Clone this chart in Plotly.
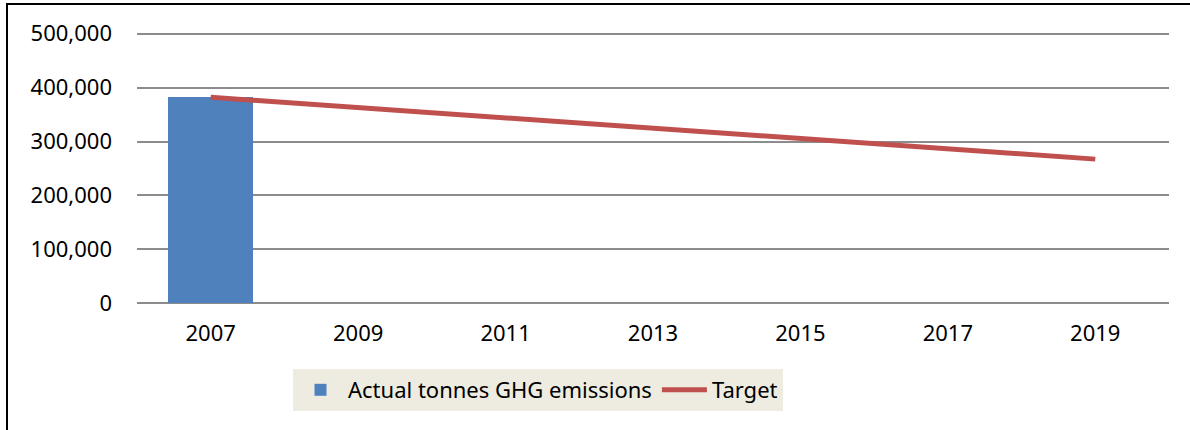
import plotly.graph_objects as go

years = ["2007", "2009", "2011", "2013", "2015", "2017", "2019"]
actual = [383000, None, None, None, None, None, None]
target = [382000, 362900, 343800, 324700, 305600, 286500, 267400]

W, H = 1190, 430
L, R, T, B = 137, 21, 31, 124
pw, ph = W - L - R, H - T - B
YMIN, YMAX = -5000, 505000

def px(x):
    return (x - L) / pw

def py(y):
    return (H - B - y) / ph

fig = go.Figure()
fig.add_trace(go.Bar(x=years, y=actual, name="Actual tonnes GHG emissions",
                     marker=dict(color="#4F81BD", line=dict(width=0)), width=0.577))
fig.add_trace(go.Scatter(x=years, y=target, name="Target", mode="lines",
                         line=dict(color="#C0504D", width=5)))

fig.update_layout(
    width=W, height=H,
    margin=dict(l=L, r=R, t=T, b=B),
    paper_bgcolor="white", plot_bgcolor="white",
    font=dict(family="Noto Sans", size=22, color="black"),
    showlegend=True,
    bargap=0,
    legend=dict(orientation="h", x=px(293), xanchor="left", y=py(369), yanchor="top",
                bgcolor="#EEECE1", font=dict(size=22), traceorder="normal",
                itemwidth=45),
    xaxis=dict(type="category", showgrid=False, zeroline=False, showline=False,
               ticks="", ticklabelstandoff=12, tickfont=dict(size=22)),
    yaxis=dict(range=[YMIN, YMAX], dtick=100000, tick0=0, tickformat=",d", showgrid=True,
               gridcolor="#8C8C8C", gridwidth=2, zeroline=False, showline=False,
               ticks="", ticklabelstandoff=24, tickfont=dict(size=22)),
    shapes=[dict(type="rect", xref="paper", yref="paper",
                 x0=px(7), x1=px(1250), y0=py(500), y1=py(4),
                 line=dict(color="black", width=2), layer="above")],
)

fig.write_html("out.html")
